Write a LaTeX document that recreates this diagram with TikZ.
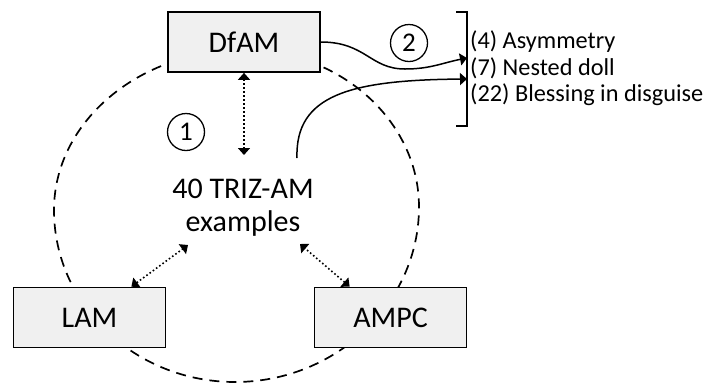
\documentclass[tikz,border=0pt]{standalone}
\usepackage{fontspec}
\setmainfont{Carlito}
\usetikzlibrary{arrows.meta}

\begin{document}
\begin{tikzpicture}[
    x=1pt, y=-1pt,
    every node/.style={font=\fontsize{30}{33}\selectfont},
    box/.style={rectangle, draw, line width=1.7pt, fill=gray!12, minimum width=152pt, minimum height=60pt, inner sep=0pt},
    num/.style={circle, draw, line width=1.3pt, minimum size=37pt, inner sep=0pt, font=\fontsize{27}{27}\selectfont},
    ring/.style={line width=1.7pt, dash pattern=on 10pt off 7pt},
    arr/.style={-{Triangle[length=7pt, width=12pt]}, line width=1.5pt},
    dotarr/.style={{Triangle[length=7pt, width=12pt]}-{Triangle[length=7pt, width=12pt]}, line width=1.6pt, dash pattern=on 1.6pt off 2.4pt},
]
    \useasboundingbox (0,0) rectangle (709,384);

    % --- Dashed loop round the three areas (drawn first, boxes hide it) ---
    \draw[ring] (244,50) .. controls (139,50) and (54,122) .. (54,210)
        .. controls (54,305) and (135,382) .. (235,382)
        .. controls (336,382) and (419,303) .. (419,207)
        .. controls (419,121) and (340,50) .. cycle;

    % --- Areas ---
    \node[box] (dfam) at (244,42)    {DfAM};
    \node[box] (lam)  at (89.5,317.5)  {LAM};
    \node[box] (ampc) at (390.5,317.5) {AMPC};

    % --- Centre text and step numbers ---
    \node[align=center] (examples) at (243,208) {40 TRIZ-AM\\examples};
    \node[num] (one) at (186,132) {1};
    \node[num] (two) at (409,43)  {2};

    % --- Resulting principles ---
    \node[anchor=north west, align=left, inner sep=0pt, font=\fontsize{24.3}{26.5}\selectfont] (list) at (470,31)
        {(4) Asymmetry\\(7) Nested doll\\(22) Blessing in disguise};
    \coordinate (brT) at (456,12);
    \coordinate (brB) at (456,126);
    \draw[line width=1.6pt] (brT) -- ++(11,0) |- (brB);

    % --- Arrow ends ---
    \coordinate (in4)   at (467,58);
    \coordinate (in7)   at (467,79);
    \coordinate (exTop) at (244,155);
    \coordinate (exL)   at (188,245);
    \coordinate (exR)   at (300,244);
    \coordinate (exOut) at (297,158);

    % --- Dotted links ---
    \draw[dotarr] (dfam.south) -- (exTop);
    \draw[dotarr] ([xshift=-35pt]lam.north east) -- (exL);
    \draw[dotarr] ([xshift=36pt]ampc.north west) -- (exR);

    % --- Curved arrows to the list ---
    \draw[arr] (dfam.east) .. controls +(45,0) and +(-35,0) .. (405,69)
        .. controls +(25,0) and +(-25,5) .. (in4);
    \draw[arr] (exOut) .. controls (295,95) and (350,80) .. (in7);
\end{tikzpicture}
\end{document}
